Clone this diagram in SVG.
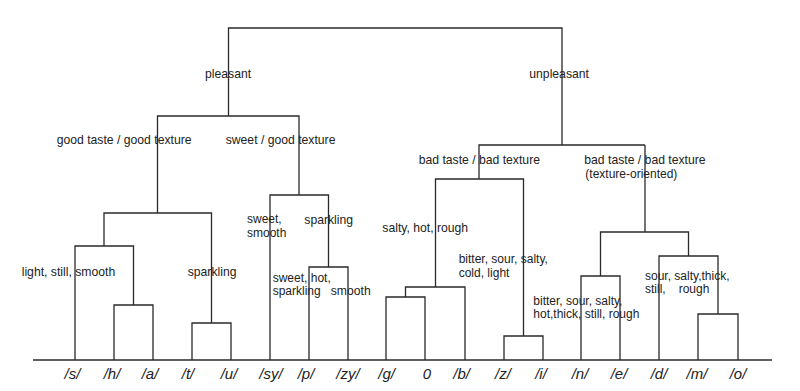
<svg xmlns="http://www.w3.org/2000/svg" width="800" height="391" viewBox="0 0 800 391">
<style>
.ln{fill:none;stroke:#2a2a2a;stroke-width:1.3}
.lb{font-family:"Liberation Sans",Arial,sans-serif;font-size:12.2px;fill:#222}
.ml{font-size:12px}
.lf{font-family:"Liberation Sans",Arial,sans-serif;font-size:15px;font-style:italic;fill:#222;text-anchor:middle}
</style>
<rect width="800" height="391" fill="#fff"/>
<g id="labels">
<g id="n-pleasant"><text class="lb" x="205" y="78">pleasant</text></g>
<g id="n-unpleasant"><text class="lb" x="529.3" y="78">unpleasant</text></g>
<g id="n-good"><text class="lb" x="56.7" y="144">good taste / good texture</text></g>
<g id="n-sweetgood"><text class="lb" x="225.7" y="144">sweet / good texture</text></g>
<g id="n-bad1"><text class="lb" x="418.7" y="164">bad taste / bad texture</text></g>
<g id="n-bad2"><text class="lb" x="584.3" y="164">bad taste / bad texture</text><text class="lb ml" x="585.3" y="177.6">(texture-oriented)</text></g>
<g id="n-lss"><text class="lb" x="21.7" y="276">light, still, smooth</text></g>
<g id="n-spark1"><text class="lb" x="187.7" y="276">sparkling</text></g>
<g id="n-sweetsmooth"><text class="lb ml" x="247" y="223.3">sweet,</text><text class="lb ml" x="247" y="236.7">smooth</text></g>
<g id="n-spark2"><text class="lb" x="304.3" y="224">sparkling</text></g>
<g id="n-shs"><text class="lb ml" x="272.7" y="281.8">sweet, hot,</text><text class="lb ml" x="272.7" y="295.2">sparkling</text></g>
<g id="n-smooth"><text class="lb" x="330.7" y="295">smooth</text></g>
<g id="n-shr"><text class="lb" x="382.3" y="231.5">salty, hot, rough</text></g>
<g id="n-bsscl"><text class="lb ml" x="458.7" y="263.3">bitter, sour, salty,</text><text class="lb ml" x="458.7" y="276.7">cold, light</text></g>
<g id="n-bssht"><text class="lb ml" x="533.3" y="304.8">bitter, sour, salty,</text><text class="lb ml" x="533.3" y="318.2">hot,thick, still, rough</text></g>
<g id="n-sstr"><text class="lb ml" x="645" y="279.8">sour, salty,thick,</text><text class="lb ml" x="645" y="293.2">still,<tspan x="678.7">rough</tspan></text></g>
</g>
<g id="connectors" class="ln">
<path d="M33,360H772"/>
<path d="M114,360V305H153V360"/>
<path d="M75,360V246H133.5V305"/>
<path d="M192,360V323H231V360"/>
<path d="M104,246V213H211.5V323"/>
<path d="M157.5,213V116H299V195"/>
<path d="M309,360V267H348V360"/>
<path d="M270,360V195H328.5V267"/>
<path d="M228.5,116V28H562V145"/>
<path d="M386,360V297H425V360"/>
<path d="M405.5,297V287H465V360"/>
<path d="M504,360V336H543V360"/>
<path d="M435.5,287V179H523.5V336"/>
<path d="M479,179V145H645"/>
<path d="M581,360V276H620V360"/>
<path d="M698,360V314H738V360"/>
<path d="M659,360V256H718V314"/>
<path d="M600.5,276V232H688.5V256"/>
<path d="M645,232V145"/>
</g>
<g id="leaves">
<g id="leaf-s"><text class="lf" x="72.5" y="379">/s/</text></g>
<g id="leaf-h"><text class="lf" x="112" y="379">/h/</text></g>
<g id="leaf-a"><text class="lf" x="150" y="379">/a/</text></g>
<g id="leaf-t"><text class="lf" x="188" y="379">/t/</text></g>
<g id="leaf-u"><text class="lf" x="229" y="379">/u/</text></g>
<g id="leaf-sy"><text class="lf" x="271" y="379">/sy/</text></g>
<g id="leaf-p"><text class="lf" x="306" y="379">/p/</text></g>
<g id="leaf-zy"><text class="lf" x="348" y="379">/zy/</text></g>
<g id="leaf-g"><text class="lf" x="386.7" y="379">/g/</text></g>
<g id="leaf-0"><text class="lf" x="427" y="379" font-style="normal">0</text></g>
<g id="leaf-b"><text class="lf" x="461.7" y="379">/b/</text></g>
<g id="leaf-z"><text class="lf" x="503" y="379">/z/</text></g>
<g id="leaf-i"><text class="lf" x="541" y="379">/i/</text></g>
<g id="leaf-n"><text class="lf" x="580" y="379">/n/</text></g>
<g id="leaf-e"><text class="lf" x="619" y="379">/e/</text></g>
<g id="leaf-d"><text class="lf" x="659" y="379">/d/</text></g>
<g id="leaf-m"><text class="lf" x="697" y="379">/m/</text></g>
<g id="leaf-o"><text class="lf" x="738" y="379">/o/</text></g>
</g>
</svg>
